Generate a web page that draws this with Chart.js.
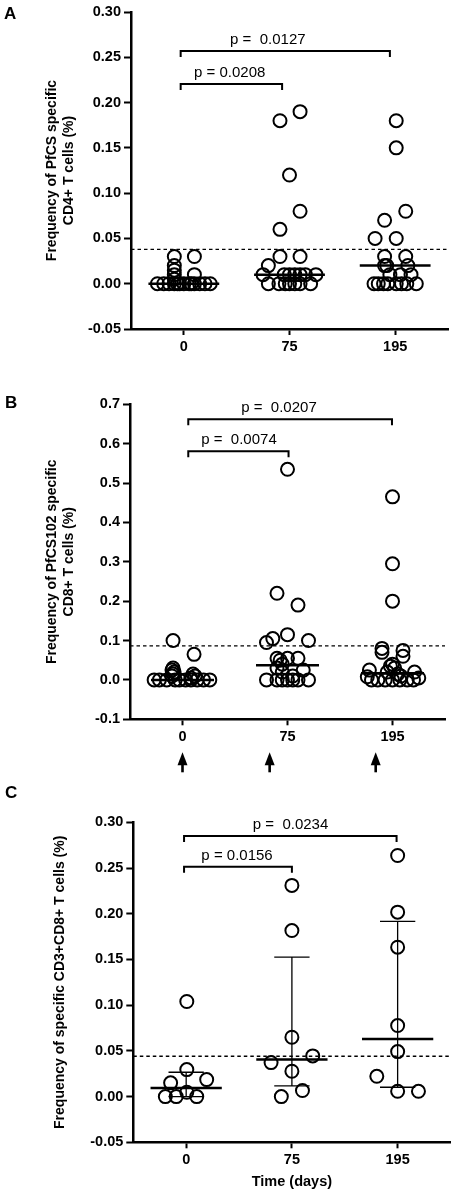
<!DOCTYPE html>
<html>
<head>
<meta charset="utf-8">
<script src="https://cdn.jsdelivr.net/npm/chart.js@4.4.1/dist/chart.umd.min.js"></script>
<style>
  html, body { margin: 0; padding: 0; background: #fff; }
  body { width: 459px; height: 1195px; position: relative; overflow: hidden; }
  .panel { position: absolute; left: 0; width: 459px; }
  .tag { position: absolute; font: bold 17px/17px 'Liberation Sans', Arial, sans-serif; color: #000; z-index: 2; }
</style>
</head>
<body>
<div class="tag" style="left:4px;top:5px">A</div>
<div class="tag" style="left:5px;top:394px">B</div>
<div class="tag" style="left:5px;top:784px">C</div>
<div class="panel" style="top:0;height:360px"><canvas id="chartA"></canvas></div>
<div class="panel" style="top:390px;height:390px"><canvas id="chartB"></canvas></div>
<div class="panel" style="top:780px;height:415px"><canvas id="chartC"></canvas></div>
<script>
// ── DATA ──
const dayLabels = ['0', '75', '195'];

// A · PfCS specific CD4+ (%)
const cd4Values = [
  [0.03, 0.03, 0.02, 0.015, 0.01, 0.01, 0.005, 0, 0, 0, 0, 0, 0, 0, 0, 0, 0, 0, 0, 0],
  [0.19, 0.18, 0.12, 0.08, 0.06, 0.03, 0.03, 0.02, 0.01, 0.01, 0.01, 0.01, 0.01, 0.01, 0.01, 0, 0, 0, 0, 0, 0, 0],
  [0.18, 0.15, 0.08, 0.07, 0.05, 0.05, 0.03, 0.03, 0.02, 0.02, 0.02, 0.01, 0.01, 0.01, 0, 0, 0, 0, 0, 0, 0, 0],
];
const cd4Jitter = [
  [-0.09, 0.1, -0.09, -0.09, -0.09, 0.1, -0.09, -0.25, -0.19, -0.14, -0.09, -0.04, 0, 0.05, 0.1, 0.15, 0.2, 0.25, -0.06, 0.07],
  [0.1, -0.09, 0, 0.1, -0.09, -0.09, 0.1, -0.2, -0.25, -0.05, 0, 0.05, 0.1, 0.15, 0.25, -0.2, -0.1, -0.04, 0, 0.05, 0.1, 0.2],
  [0.01, 0.01, 0.1, -0.1, -0.19, 0.01, -0.1, 0.1, -0.08, -0.1, 0.12, -0.05, 0.15, 0.05, -0.2, -0.16, -0.11, -0.07, 0.01, 0.06, 0.11, 0.2],
];
const cd4Medians = [0, 0.01, 0.02];
const cd4Cutoff = 0.038;
const cd4Ticks = [-0.05, 0, 0.05, 0.10, 0.15, 0.20, 0.25, 0.30];
const cd4Brackets = [
  { from: -0.03, to: 0.93, level: 0.2205, text: 'p = 0.0208', at: 0.434 },
  { from: -0.03, to: 1.95, level: 0.257, text: 'p =  0.0127', at: 0.795 },
];

// B · PfCS102 specific CD8+ (%)
const cd8Values = [
  [0.10, 0.065, 0.03, 0.025, 0.02, 0.015, 0.01, 0.015, 0.01, 0.005, 0, 0, 0, 0, 0, 0, 0, 0, 0, 0],
  [0.535, 0.22, 0.19, 0.115, 0.10, 0.105, 0.095, 0.055, 0.05, 0.055, 0.055, 0.04, 0.03, 0.025, 0.02, 0.01, 0, 0, 0, 0, 0, 0, 0],
  [0.465, 0.295, 0.2, 0.08, 0.07, 0.075, 0.06, 0.04, 0.035, 0.03, 0.025, 0.02, 0.02, 0.015, 0.01, 0.008, 0.005, 0, 0, 0, 0, 0, 0, 0],
];
const cd8Jitter = [
  [-0.09, 0.11, -0.09, -0.1, -0.08, -0.09, -0.1, 0.1, 0.12, 0.08, -0.27, -0.22, -0.15, -0.07, -0.03, 0.03, 0.08, 0.14, 0.2, 0.26],
  [0, -0.1, 0.1, 0, 0.2, -0.14, -0.2, -0.1, -0.07, 0, 0.1, -0.05, -0.1, 0.15, -0.05, 0.05, -0.2, -0.1, -0.05, 0, 0.05, 0.1, 0.2],
  [0, 0, 0, -0.1, -0.1, 0.1, 0.1, 0, -0.02, 0.02, -0.22, 0.21, -0.05, 0.05, 0.08, -0.24, 0.25, -0.2, -0.14, -0.07, 0, 0.07, 0.14, 0.2],
];
const cd8Medians = [0, 0.037, 0.017];
const cd8Cutoff = 0.0865;
const cd8Ticks = [-0.1, 0, 0.1, 0.2, 0.3, 0.4, 0.5, 0.6, 0.7];
const cd8Brackets = [
  { from: 0.055, to: 1.01, level: 0.581, text: 'p =  0.0074', at: 0.538 },
  { from: 0.055, to: 1.995, level: 0.662, text: 'p =  0.0207', at: 0.919 },
];
const doseArrows = [0, 0.83, 1.84];

// C · specific CD3+CD8+ (%)
const cd3Values = [
  [0.104, 0.0295, 0.0186, 0.015, 0.0047, 0, 0, 0],
  [0.231, 0.1816, 0.0649, 0.0445, 0.0372, 0.0277, 0.0066, 0],
  [0.2637, 0.2017, 0.1634, 0.0777, 0.0492, 0.0222, 0.0058, 0.0058],
];
const cd3Jitter = [
  [0.006, 0.006, 0.194, -0.147, 0.006, -0.197, -0.094, 0.1],
  [0, 0, 0, 0.197, -0.197, 0, 0.1, -0.1],
  [0, 0, 0, 0, 0, -0.197, 0, 0.197],
];
const cd3Medians = [0.0095, 0.0405, 0.063];
const cd3Q1 = [0, 0.0117, 0.0102];
const cd3Q3 = [0.0266, 0.1525, 0.1916];
const cd3Cutoff = 0.0441;
const cd3Ticks = [-0.05, 0, 0.05, 0.10, 0.15, 0.20, 0.25, 0.30];
const cd3Brackets = [
  { from: -0.02, to: 1.0, level: 0.2514, text: 'p = 0.0156', at: 0.481 },
  { from: -0.02, to: 1.99, level: 0.285, text: 'p =  0.0234', at: 0.987 },
];

// ── DRAWING ──
const FONT = "'Liberation Sans', Arial, sans-serif";
Chart.defaults.font.family = FONT;
Chart.defaults.color = '#000';

function overlay(p) {
  return {
    id: 'overlay',
    beforeDatasetsDraw(chart) {
      const { ctx, chartArea: a, scales: { y } } = chart;
      const yy = y.getPixelForValue(p.cutoff);
      ctx.save();
      ctx.setLineDash([3.5, 3]);
      ctx.lineWidth = 1.3;
      ctx.strokeStyle = '#000';
      ctx.beginPath(); ctx.moveTo(a.left, yy); ctx.lineTo(a.right, yy); ctx.stroke();
      ctx.restore();
    },
    afterDatasetsDraw(chart) {
      const { ctx, chartArea: a, scales: { x, y } } = chart;
      ctx.save();
      ctx.strokeStyle = '#000'; ctx.fillStyle = '#000';

      // interquartile bars
      if (p.q1) {
        ctx.lineWidth = 1.3;
        p.q1.forEach((lo, i) => {
          const cx = x.getPixelForValue(i), cw = x.getPixelForValue(i + 0.167) - cx;
          const y1 = y.getPixelForValue(lo), y2 = y.getPixelForValue(p.q3[i]);
          ctx.beginPath();
          ctx.moveTo(cx, y1); ctx.lineTo(cx, y2);
          ctx.moveTo(cx - cw, y1); ctx.lineTo(cx + cw, y1);
          ctx.moveTo(cx - cw, y2); ctx.lineTo(cx + cw, y2);
          ctx.stroke();
        });
      }

      // medians
      ctx.lineWidth = 2.5;
      p.medians.forEach((m, i) => {
        const yy = y.getPixelForValue(m);
        ctx.beginPath();
        ctx.moveTo(x.getPixelForValue(i - p.half), yy);
        ctx.lineTo(x.getPixelForValue(i + p.half), yy);
        ctx.stroke();
      });

      // significance brackets
      ctx.lineWidth = 2;
      ctx.font = `15px ${FONT}`;
      ctx.textAlign = 'center'; ctx.textBaseline = 'alphabetic';
      p.brackets.forEach(b => {
        const yy = y.getPixelForValue(b.level);
        const x1 = x.getPixelForValue(b.from), x2 = x.getPixelForValue(b.to);
        ctx.beginPath();
        ctx.moveTo(x1, yy + 6); ctx.lineTo(x1, yy); ctx.lineTo(x2, yy); ctx.lineTo(x2, yy + 6);
        ctx.stroke();
        ctx.fillText(b.text, x.getPixelForValue(b.at), yy - 7);
      });

      // immunisation arrows
      if (p.arrows) {
        p.arrows.forEach(v => {
          const cx = x.getPixelForValue(v), t = a.bottom + 33;
          ctx.beginPath();
          ctx.moveTo(cx, t); ctx.lineTo(cx + 5, t + 13); ctx.lineTo(cx - 5, t + 13); ctx.closePath();
          ctx.fill();
          ctx.fillRect(cx - 1.3, t + 12, 2.6, 8);
        });
      }
      ctx.restore();
    }
  };
}

function buildPanel(canvasId, p) {
  const pts = p.values.flatMap((g, i) => g.map((v, k) => ({ x: i + p.jitter[i][k], y: v })));
  return new Chart(document.getElementById(canvasId), {
    type: 'scatter',
    data: {
      datasets: [{
        data: pts,
        pointRadius: 6.5, pointHoverRadius: 6.5, pointBorderWidth: 2, pointHoverBorderWidth: 2,
        pointBorderColor: '#000', pointBackgroundColor: 'rgba(0,0,0,0)',
        borderColor: '#000', showLine: false
      }]
    },
    options: {
      responsive: true, maintainAspectRatio: false, animation: false,
      layout: { padding: { top: p.padTop, right: p.padRight, left: 0, bottom: 0 } },
      plugins: { legend: { display: false }, tooltip: { enabled: false } },
      scales: {
        x: {
          type: 'linear', min: -0.5, max: 2.5,
          afterBuildTicks: s => { s.ticks = dayLabels.map((_, i) => ({ value: i })); },
          afterFit: s => { s.height = p.xAxisHeight; },
          ticks: { callback: v => dayLabels[v], color: '#000', font: { size: 14.5, weight: 'bold' }, padding: 3, maxRotation: 0, autoSkip: false },
          grid: { drawOnChartArea: false, tickLength: 6, tickWidth: 2, tickColor: '#000' },
          border: { color: '#000', width: 2.5 },
          title: p.xTitle
            ? { display: true, text: p.xTitle, color: '#000', font: { size: 14.5, weight: 'bold', lineHeight: 1.2 }, padding: { top: 0, bottom: 4.6 } }
            : { display: false }
        },
        y: {
          min: p.ticks[0], max: p.ticks[p.ticks.length - 1],
          afterBuildTicks: s => { s.ticks = p.ticks.map(v => ({ value: v })); },
          afterFit: s => { s.width = p.yAxisWidth; },
          ticks: { callback: v => v.toFixed(p.decimals), color: '#000', font: { size: 14.5, weight: 'bold' }, padding: 3, autoSkip: false },
          grid: { drawOnChartArea: false, tickLength: 7, tickWidth: 2, tickColor: '#000' },
          border: { color: '#000', width: 2.5 },
          title: { display: true, text: p.yTitle, color: '#000', font: { size: 14, weight: 'bold', lineHeight: 1.2 }, padding: { top: p.titlePad, bottom: 0 } }
        }
      }
    },
    plugins: [overlay(p)]
  });
}

buildPanel('chartA', {
  values: cd4Values, jitter: cd4Jitter, medians: cd4Medians, cutoff: cd4Cutoff, ticks: cd4Ticks,
  brackets: cd4Brackets, decimals: 2, half: 0.335,
  yTitle: ['Frequency of PfCS specific', 'CD4+ T cells (%)'], titlePad: 43.6,
  padTop: 12, padRight: 11, xAxisHeight: 31, yAxisWidth: 131
});

buildPanel('chartB', {
  values: cd8Values, jitter: cd8Jitter, medians: cd8Medians, cutoff: cd8Cutoff, ticks: cd8Ticks,
  brackets: cd8Brackets, arrows: doseArrows, decimals: 1, half: 0.3,
  yTitle: ['Frequency of PfCS102 specific', 'CD8+ T cells (%)'], titlePad: 44,
  padTop: 14.3, padRight: 14, xAxisHeight: 60.7, yAxisWidth: 130
});

buildPanel('chartC', {
  values: cd3Values, jitter: cd3Jitter, medians: cd3Medians, q1: cd3Q1, q3: cd3Q3, cutoff: cd3Cutoff, ticks: cd3Ticks,
  brackets: cd3Brackets, decimals: 2, half: 0.337,
  yTitle: 'Frequency of specific CD3+CD8+ T cells (%)', titlePad: 51.6, xTitle: 'Time (days)',
  padTop: 42.3, padRight: 5, xAxisHeight: 52.7, yAxisWidth: 133.3
});
</script>
</body>
</html>
